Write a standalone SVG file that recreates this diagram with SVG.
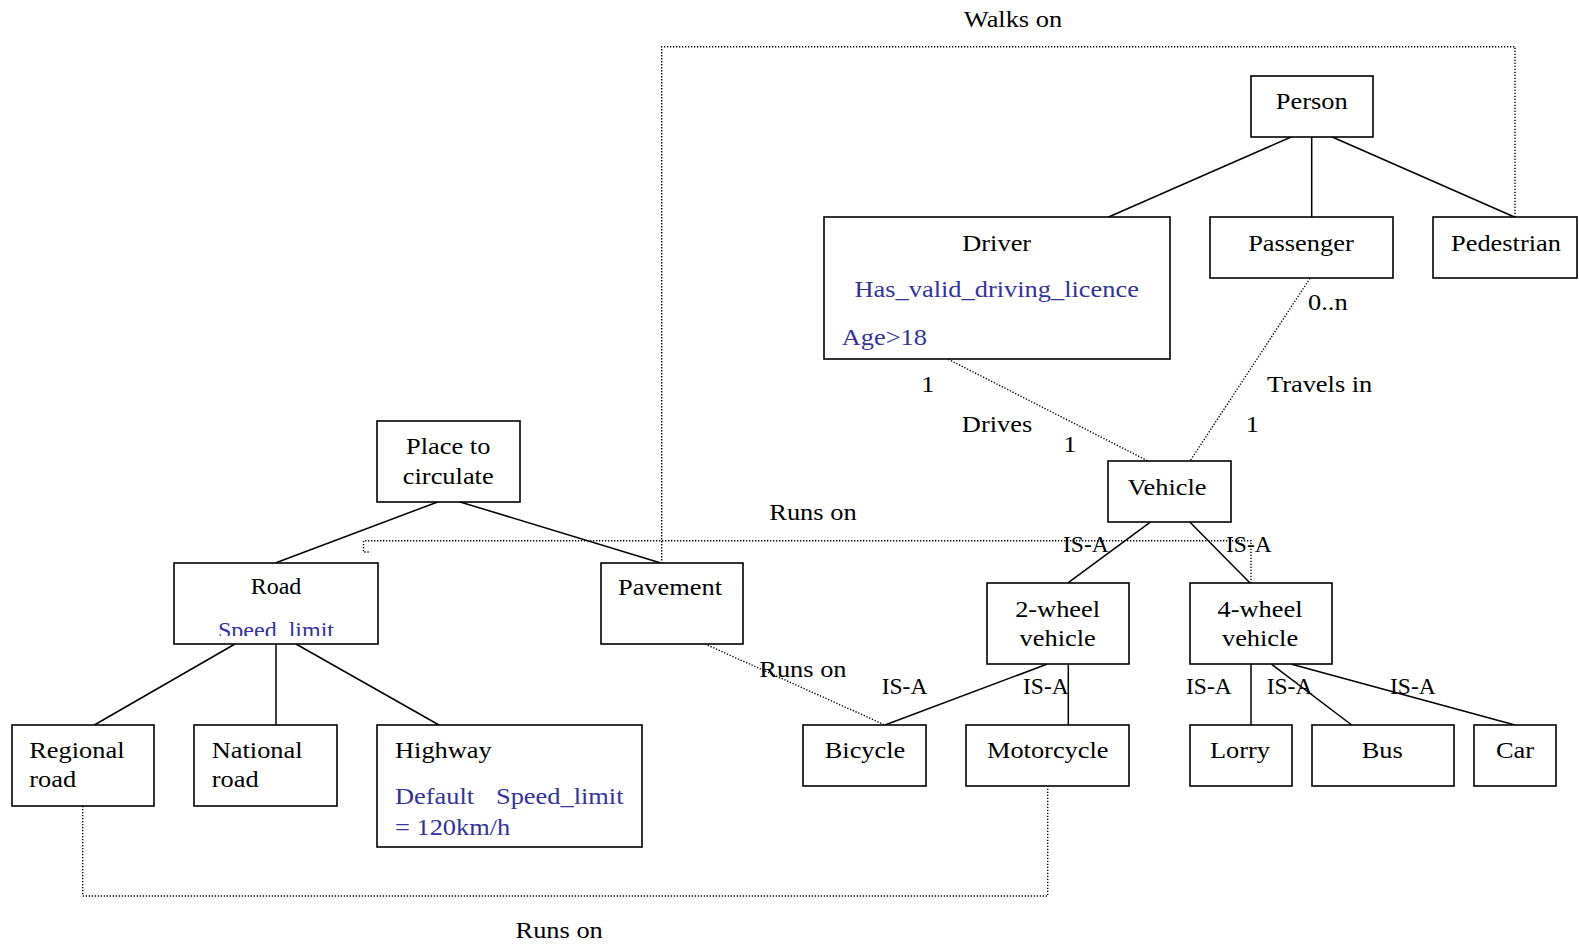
<svg xmlns="http://www.w3.org/2000/svg" width="1579" height="945" viewBox="0 0 1579 945">
<style>
.box{fill:#fff;stroke:#000;stroke-width:1.6}
.ln{stroke:#000;stroke-width:1.5;fill:none}
.dot{stroke:#000;stroke-width:1.4;fill:none;stroke-dasharray:1.3 1.7}
text{font-family:"Liberation Serif","Times New Roman",serif;font-size:24px;fill:#000}
.c{text-anchor:middle}
.b{fill:#333399}
.isa{font-size:23.5px}
</style>
<defs>
<clipPath id="roadclip"><rect x="174" y="563" width="204" height="73"/></clipPath>
</defs>
<g id="connectors">
<line class="ln" x1="1291.7" y1="136.7" x2="1108" y2="217.3"/>
<line class="ln" x1="1311.7" y1="136.7" x2="1311.7" y2="217.3"/>
<line class="ln" x1="1331.7" y1="136.7" x2="1515" y2="217.3"/>
<line class="ln" x1="438.3" y1="501.7" x2="276" y2="562.7"/>
<line class="ln" x1="459.3" y1="501.7" x2="660" y2="562.7"/>
<line class="ln" x1="235" y1="644" x2="94.3" y2="725"/>
<line class="ln" x1="276" y1="644" x2="276" y2="725"/>
<line class="ln" x1="296" y1="644" x2="439" y2="725"/>
<line class="ln" x1="1150" y1="522.3" x2="1068.3" y2="582.7"/>
<line class="ln" x1="1190" y1="522.3" x2="1250" y2="583"/>
<line class="ln" x1="1046.7" y1="664.3" x2="885" y2="725"/>
<line class="ln" x1="1068.3" y1="664.3" x2="1068.3" y2="725"/>
<line class="ln" x1="1251" y1="664.3" x2="1251" y2="725"/>
<line class="ln" x1="1271.7" y1="664.3" x2="1351.7" y2="725"/>
<line class="ln" x1="1291.7" y1="664.3" x2="1515" y2="725"/>
<path class="dot" d="M1515 217 V46.7 H661.7 V562.7"/>
<line class="dot" x1="948.3" y1="359.3" x2="1148" y2="461"/>
<line class="dot" x1="1310" y1="278.3" x2="1190" y2="461"/>
<path class="dot" d="M1251 583 V540.7 H363.5 V552 H370"/>
<line class="dot" x1="705" y1="644" x2="885" y2="725"/>
<path class="dot" d="M82.7 806 V896 H1047.7 V786"/>
</g>
<g id="person"><rect class="box" x="1251" y="76" width="122" height="61"/></g>
<g id="driver"><rect class="box" x="824" y="217" width="346" height="142"/></g>
<g id="passenger"><rect class="box" x="1210" y="217" width="183" height="61"/></g>
<g id="pedestrian"><rect class="box" x="1433" y="217" width="144" height="61"/></g>
<g id="vehicle"><rect class="box" x="1108" y="461" width="123" height="61"/></g>
<g id="place"><rect class="box" x="377" y="421" width="143" height="81"/></g>
<g id="road"><rect class="box" x="174" y="563" width="204" height="81"/>
<text class="c" x="276" y="594">Road</text>
<text class="b" x="218" y="638" clip-path="url(#roadclip)">Speed_limit</text></g>
<g id="pavement"><rect class="box" x="601" y="563" width="142" height="81"/></g>
<g id="twowheel"><rect class="box" x="987" y="583" width="142" height="81"/></g>
<g id="fourwheel"><rect class="box" x="1190" y="583" width="142" height="81"/></g>
<g id="regional"><rect class="box" x="12" y="725" width="142" height="81"/></g>
<g id="national"><rect class="box" x="194" y="725" width="143" height="81"/></g>
<g id="highway"><rect class="box" x="377" y="725" width="265" height="122"/></g>
<g id="bicycle"><rect class="box" x="803" y="725" width="123" height="61"/></g>
<g id="motorcycle"><rect class="box" x="966" y="725" width="163" height="61"/></g>
<g id="lorry"><rect class="box" x="1190" y="725" width="102" height="61"/></g>
<g id="bus"><rect class="box" x="1312" y="725" width="142" height="61"/></g>
<g id="car"><rect class="box" x="1474" y="725" width="82" height="61"/></g>
<g id="isa-labels">
<text class="isa" x="1063" y="552">IS-A</text>
<text class="isa" x="1226" y="552">IS-A</text>
<text class="isa" x="881.7" y="694">IS-A</text>
<text class="isa" x="1023" y="694">IS-A</text>
<text class="isa" x="1186" y="694">IS-A</text>
<text class="isa" x="1266.7" y="694">IS-A</text>
<text class="isa" x="1390" y="694">IS-A</text>
</g>
<g id="labels" transform="scale(1.1 1)">
<text class="c" x="920.9" y="27">Walks on</text>
<text class="c" x="1192.5" y="109">Person</text>
<text class="c" x="906.1" y="251">Driver</text>
<text class="c b" x="906.1" y="297">Has_valid_driving_licence</text>
<text class="b" x="765.2" y="345">Age&gt;18</text>
<text class="c" x="1182.7" y="251">Passenger</text>
<text class="c" x="1369.1" y="251">Pedestrian</text>
<text x="1189.1" y="310">0..n</text>
<text x="1151.8" y="392">Travels in</text>
<text class="c" x="843.6" y="392">1</text>
<text class="c" x="906.4" y="432">Drives</text>
<text class="c" x="972.7" y="452">1</text>
<text class="c" x="1138.6" y="432">1</text>
<text class="c" x="1060.9" y="495">Vehicle</text>
<text x="699.4" y="520">Runs on</text>
<text class="c" x="407.5" y="454">Place to</text>
<text class="c" x="407.5" y="484">circulate</text>
<text class="c" x="609.1" y="595">Pavement</text>
<text class="c" x="961.5" y="617">2-wheel</text>
<text class="c" x="961.5" y="646">vehicle</text>
<text class="c" x="1145.5" y="617">4-wheel</text>
<text class="c" x="1145.5" y="646">vehicle</text>
<text x="690.3" y="677">Runs on</text>
<text class="c" x="786.4" y="758">Bicycle</text>
<text class="c" x="952.5" y="758">Motorcycle</text>
<text class="c" x="1127.3" y="758">Lorry</text>
<text class="c" x="1256.6" y="758">Bus</text>
<text class="c" x="1377.3" y="758">Car</text>
<text x="26.6" y="758">Regional</text>
<text x="26.6" y="787">road</text>
<text x="192.5" y="758">National</text>
<text x="192.5" y="787">road</text>
<text x="359.1" y="758">Highway</text>
<text class="b" x="359.1" y="804">Default</text>
<text class="b" x="450.9" y="804">Speed_limit</text>
<text class="b" x="359.1" y="835">= 120km/h</text>
<text x="468.7" y="938">Runs on</text>
</g>
</svg>
